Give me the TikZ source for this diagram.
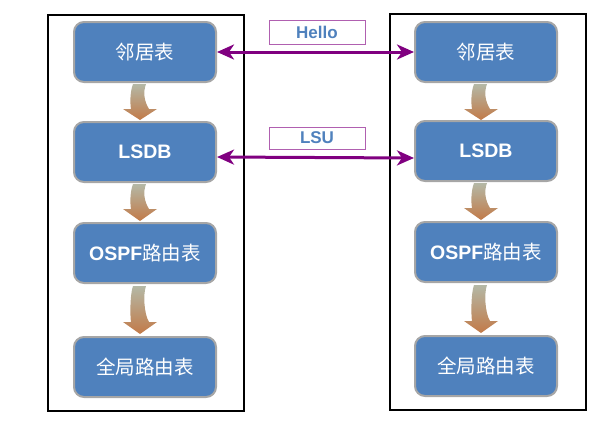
\documentclass[tikz,border=0pt]{standalone}
\usepackage{fontspec}
\setmainfont{Liberation Sans}
\newfontfamily\cjk{Noto Sans CJK SC}
\usetikzlibrary{arrows.meta,calc}
\definecolor{nodeblue}{HTML}{4F81BD}
\definecolor{nodeborder}{HTML}{A6A6A6}
\definecolor{linkpurple}{HTML}{800080}
\definecolor{labborder}{HTML}{B060B0}
\definecolor{arrtop}{HTML}{B4B8A6}
\definecolor{arrmid}{HTML}{8E8E6C}
\definecolor{arrbot}{HTML}{C27A48}
\newcommand\dnarr[4]{% cx, ytop, headbase, ybot
  \shade[top color=arrtop, middle color=arrmid, bottom color=arrbot]
    ({#1-7},#2) .. controls ({#1-10},{#2+8}) and ({#1-10},{#3-6}) .. ({#1-9},#3)
    -- ({#1-17},#3) -- (#1,#4) -- ({#1+17},#3) -- ({#1+9},#3)
    .. controls ({#1+4},{#3-8}) and ({#1+3},{#2+8}) .. ({#1+6},#2) -- cycle;
}
\begin{document}
\begin{tikzpicture}[x=1pt,y=-1pt,
  tablebox/.style={draw=nodeborder, line width=2pt, fill=nodeblue, rounded corners=10pt,
    minimum width=142pt, minimum height=60pt, inner sep=0pt, text=white, font=\fontsize{19.5}{22}\selectfont\bfseries},
  msglabel/.style={draw=labborder, line width=0.8pt, fill=white, minimum width=96pt, inner sep=0pt,
    text=nodeblue, font=\fontsize{17}{19}\selectfont\bfseries},
  link/.style={draw=linkpurple, line width=3pt, {Stealth[length=17pt,width=15pt,inset=5pt]}-{Stealth[length=17pt,width=15pt,inset=5pt]}}]
\useasboundingbox (0,0) rectangle (610,426);
% router containers
\draw[line width=1.3pt] (48,15) rectangle (244,411);
\draw[line width=1.3pt] (390,14) rectangle (586,410);
% left tables
\node[tablebox] (l1) at (145,52) {{\cjk\mdseries 邻居表}};
\node[tablebox] (l2) at (145,152) {LSDB};
\node[tablebox] (l3) at (145,253) {OSPF{\cjk\mdseries 路由表}};
\node[tablebox] (l4) at (145,367) {{\cjk\mdseries 全局路由表}};
% right tables
\node[tablebox] (r1) at (486,52) {{\cjk\mdseries 邻居表}};
\node[tablebox] (r2) at (486,151) {LSDB};
\node[tablebox] (r3) at (486,252) {OSPF{\cjk\mdseries 路由表}};
\node[tablebox] (r4) at (486,366) {{\cjk\mdseries 全局路由表}};
% flow arrows
\dnarr{140}{84}{109}{120}
\dnarr{140}{184}{209}{221}
\dnarr{140}{286}{322}{334}
\dnarr{481}{84}{109}{120}
\dnarr{481}{183}{208}{220}
\dnarr{481}{285}{321}{333}
% message labels
\node[msglabel, minimum height=24pt] (hello) at (317,32) {Hello};
\node[msglabel, minimum height=22pt] (lsu) at (317,138) {LSU};
% links
\draw[link] (l1.east) -- (r1.west);
\draw[link] ([yshift=-5pt]l2.east) -- ([yshift=-7pt]r2.west);
\end{tikzpicture}
\end{document}
